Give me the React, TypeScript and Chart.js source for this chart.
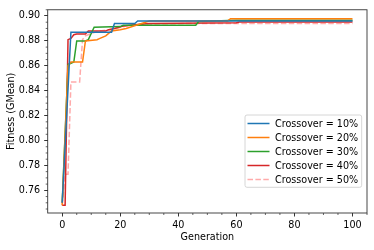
import React, { useEffect, useRef } from "react";
import { Chart, registerables } from "chart.js";

Chart.register(...registerables);

const seriesLabels = [
  "Crossover = 10%",
  "Crossover = 20%",
  "Crossover = 30%",
  "Crossover = 40%",
  "Crossover = 50%",
];
const seriesColors = ["#1f77b4", "#ff7f0e", "#2ca02c", "#d62728", "#ffaaaa"];

const gen10 = [0, 3, 17, 18, 25, 26, 100];
const fit10 = [0.75, 0.887, 0.887, 0.894, 0.894, 0.896, 0.896];

const gen20 = [0, 2, 3, 7, 8, 12, 13, 15, 17, 20, 22, 26, 30, 57, 58, 100];
const fit20 = [0.748, 0.86, 0.863, 0.863, 0.88, 0.881, 0.882, 0.884, 0.888, 0.889, 0.89, 0.893, 0.896, 0.896, 0.8978, 0.8978];

const gen30 = [0, 2, 3, 4, 5, 8, 9, 11, 20, 21, 46, 47, 60, 100];
const fit30 = [0.75, 0.861, 0.862, 0.863, 0.88, 0.88, 0.881, 0.891, 0.8915, 0.8925, 0.8925, 0.8955, 0.8965, 0.8965];

const gen40 = [0, 1, 2, 3, 4, 5, 8, 9, 15, 16, 18, 21, 25, 30, 60, 61, 100];
const fit40 = [0.748, 0.748, 0.881, 0.882, 0.885, 0.8855, 0.8855, 0.888, 0.888, 0.889, 0.89, 0.892, 0.893, 0.894, 0.8945, 0.8952, 0.8952];

const gen50 = [0, 1, 2, 3, 6, 7, 8, 10, 13, 17, 22, 28, 45, 100];
const fit50 = [0.748, 0.773, 0.773, 0.847, 0.847, 0.881, 0.884, 0.886, 0.888, 0.889, 0.892, 0.8935, 0.894, 0.894];

const allGens = [gen10, gen20, gen30, gen40, gen50];
const allFits = [fit10, fit20, fit30, fit40, fit50];

const xTicks = [0, 20, 40, 60, 80, 100];
const yTicks = [0.76, 0.78, 0.8, 0.82, 0.84, 0.86, 0.88, 0.9];
const xMinorTicks = [5, 10, 15, 25, 30, 35, 45, 50, 55, 65, 70, 75, 85, 90, 95, 105];
const yMinorTicks = [0.745, 0.75, 0.755, 0.765, 0.77, 0.775, 0.785, 0.79, 0.795, 0.805, 0.81, 0.815, 0.825, 0.83, 0.835, 0.845, 0.85, 0.855, 0.865, 0.87, 0.875, 0.885, 0.89, 0.895, 0.905];

const FONT = "DejaVu Sans";
const FS = 9.6;

const decorPlugin = {
  id: "decor",
  afterDraw(chart: any) {
    const ctx = chart.ctx as CanvasRenderingContext2D;
    const ca = chart.chartArea;
    const xs = chart.scales.x;
    const ys = chart.scales.y;
    ctx.save();
    // minor ticks
    ctx.strokeStyle = "#000";
    ctx.lineWidth = 0.6;
    ctx.beginPath();
    for (const v of xMinorTicks) {
      const px = xs.getPixelForValue(v);
      if (px < ca.left - 0.5 || px > ca.right + 0.5) continue;
      ctx.moveTo(px, ca.bottom);
      ctx.lineTo(px, ca.bottom + 2);
    }
    for (const v of yMinorTicks) {
      const py = ys.getPixelForValue(v);
      if (py < ca.top - 0.5 || py > ca.bottom + 0.5) continue;
      ctx.moveTo(ca.left, py);
      ctx.lineTo(ca.left - 2, py);
    }
    ctx.stroke();
    // frame
    ctx.strokeStyle = "#333";
    ctx.lineWidth = 0.9;
    ctx.strokeRect(ca.left, ca.top, ca.right - ca.left, ca.bottom - ca.top);
    // axis titles
    ctx.fillStyle = "#000";
    ctx.font = `${FS}px "${FONT}"`;
    ctx.textAlign = "center";
    ctx.textBaseline = "middle";
    ctx.fillText("Generation", (ca.left + ca.right) / 2, 237.5);
    ctx.save();
    ctx.translate(11.5, (ca.top + ca.bottom) / 2);
    ctx.rotate(-Math.PI / 2);
    ctx.fillText("Fitness (GMean)", 0, 0);
    ctx.restore();
    // legend
    const lx = ca.right - 122;
    const ly = ca.bottom - 98;
    const lw = 116.7;
    const lh = 72.3;
    ctx.beginPath();
    const r = 2;
    ctx.moveTo(lx + r, ly);
    ctx.arcTo(lx + lw, ly, lx + lw, ly + lh, r);
    ctx.arcTo(lx + lw, ly + lh, lx, ly + lh, r);
    ctx.arcTo(lx, ly + lh, lx, ly, r);
    ctx.arcTo(lx, ly, lx + lw, ly, r);
    ctx.closePath();
    ctx.fillStyle = "rgba(255,255,255,0.8)";
    ctx.fill();
    ctx.strokeStyle = "#cccccc";
    ctx.lineWidth = 0.8;
    ctx.stroke();
    ctx.textAlign = "left";
    chart.data.datasets.forEach((ds: any, i: number) => {
      const yy = ly + 8.5 + i * 14;
      ctx.beginPath();
      ctx.strokeStyle = ds.borderColor;
      ctx.lineWidth = 1.5;
      ctx.setLineDash(ds.borderDash || []);
      ctx.moveTo(lx + 2.5, yy);
      ctx.lineTo(lx + 24.5, yy);
      ctx.stroke();
      ctx.setLineDash([]);
      ctx.fillStyle = "#000";
      ctx.fillText(ds.label, lx + 30, yy + 0.5);
    });
    ctx.restore();
  },
};

export default function App() {
  const ref = useRef<HTMLCanvasElement>(null);
  useEffect(() => {
    if (!ref.current) return;
    const datasets = seriesLabels.map((label, i) => ({
      label,
      data: allGens[i].map((g, j) => ({ x: g, y: allFits[i][j] })),
      borderColor: seriesColors[i],
      backgroundColor: seriesColors[i],
      borderWidth: 1.5,
      borderDash: i === 4 ? [5.5, 2.4] : undefined,
      pointRadius: 0,
      tension: 0,
      fill: false,
    }));
    const chart = new Chart(ref.current, {
      type: "line",
      data: { datasets },
      options: {
        animation: false,
        responsive: false,
        devicePixelRatio: 1,
        layout: { padding: { top: 7, right: 7, left: 0, bottom: 0 } },
        plugins: { legend: { display: false }, tooltip: { enabled: false } },
        scales: {
          x: {
            type: "linear",
            min: -5,
            max: 105,
            afterBuildTicks: (s: any) => {
              s.ticks = xTicks.map((v) => ({ value: v }));
            },
            afterFit: (s: any) => {
              s.height = 37;
            },
            ticks: {
              color: "#000",
              font: { family: FONT, size: FS },
              padding: 3.5,
              maxRotation: 0,
              autoSkip: false,
              callback: (v: any) => String(v),
            },
            grid: {
              drawOnChartArea: false,
              drawTicks: true,
              tickLength: 3.5,
              color: "#000",
              lineWidth: 0.8,
            },
            border: { display: false },
          },
          y: {
            type: "linear",
            min: 0.7418,
            max: 0.905,
            afterBuildTicks: (s: any) => {
              s.ticks = yTicks.map((v) => ({ value: v }));
            },
            afterFit: (s: any) => {
              s.width = 47.7;
            },
            ticks: {
              color: "#000",
              font: { family: FONT, size: FS },
              padding: 4,
              autoSkip: false,
              callback: (v: any) => Number(v).toFixed(2),
            },
            grid: {
              drawOnChartArea: false,
              drawTicks: true,
              tickLength: 3.5,
              color: "#000",
              lineWidth: 0.8,
            },
            border: { display: false },
          },
        },
      },
      plugins: [decorPlugin],
    });
    return () => chart.destroy();
  }, []);
  return (
    <div style={{ position: "fixed", left: 0, top: 0, width: 374, height: 250, background: "#fff" }}>
      <canvas ref={ref} width={374} height={250} style={{ width: 374, height: 250, display: "block" }} />
    </div>
  );
}
